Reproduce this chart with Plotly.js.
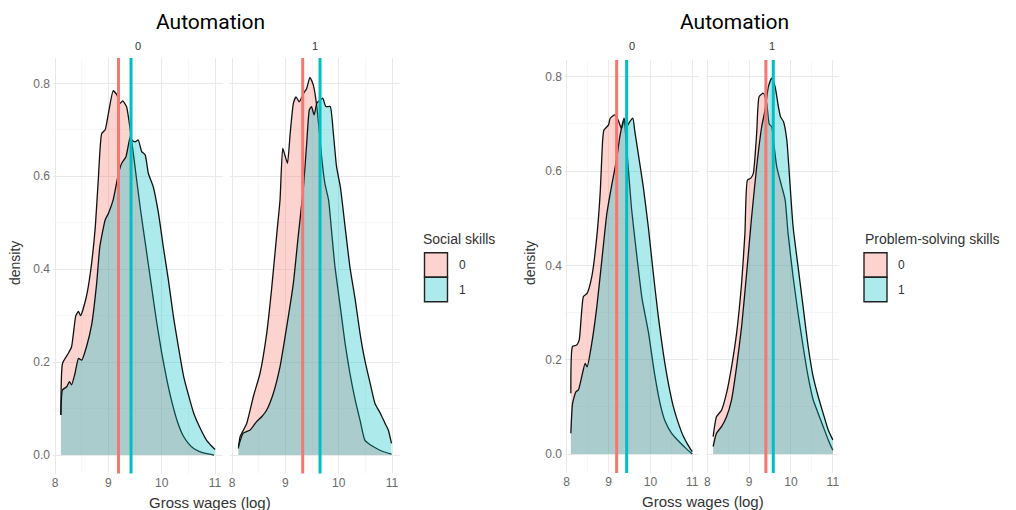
<!DOCTYPE html>
<html><head><meta charset="utf-8">
<script src="https://cdn.plot.ly/plotly-3.0.1.min.js"></script>
<style>html,body{margin:0;padding:0;background:#fff}#chart{width:1016px;height:510px}</style>
</head><body><div id="chart"></div>
<script>
// ---------- DATA ----------
const facetLabels = ['0', '1'];
const groupLabels = ['0', '1'];
const chartTitles = ['Automation', 'Automation'];
const legendTitles = ['Social skills', 'Problem-solving skills'];

// Left chart: Social skills, Automation = 0
const socA0S0x = [8.11, 8.14, 8.25, 8.31, 8.39, 8.44, 8.48, 8.58, 8.66, 8.75, 8.81, 8.875, 8.94, 9.0, 9.09, 9.16, 9.22, 9.27, 9.34, 9.41, 9.5, 9.6, 9.7, 9.8, 9.9, 10.0, 10.1, 10.2, 10.3, 10.4, 10.5, 10.6, 10.7, 10.8, 10.9, 10.98];
const socA0S0y = [0.086, 0.197, 0.219, 0.233, 0.30, 0.309, 0.30, 0.337, 0.39, 0.484, 0.59, 0.692, 0.70, 0.735, 0.784, 0.775, 0.757, 0.762, 0.75, 0.70, 0.62, 0.53, 0.45, 0.37, 0.29, 0.22, 0.16, 0.11, 0.07, 0.042, 0.025, 0.014, 0.008, 0.004, 0.002, 0.0];
const socA0S1x = [8.11, 8.14, 8.22, 8.27, 8.31, 8.375, 8.44, 8.5, 8.59, 8.69, 8.78, 8.84, 8.94, 9.0, 9.09, 9.19, 9.25, 9.33, 9.41, 9.44, 9.5, 9.56, 9.625, 9.69, 9.75, 9.84, 9.94, 10.03, 10.125, 10.22, 10.31, 10.41, 10.5, 10.6, 10.72, 10.84, 10.93, 11.0];
const socA0S1y = [0.086, 0.14, 0.147, 0.158, 0.151, 0.176, 0.208, 0.204, 0.233, 0.283, 0.369, 0.448, 0.506, 0.52, 0.549, 0.606, 0.628, 0.642, 0.685, 0.678, 0.674, 0.678, 0.653, 0.646, 0.606, 0.578, 0.52, 0.448, 0.377, 0.298, 0.235, 0.17, 0.13, 0.09, 0.058, 0.032, 0.02, 0.012];
// Left chart: Social skills, Automation = 1
const socA1S0x = [8.12, 8.15, 8.275, 8.4, 8.525, 8.65, 8.74, 8.84, 8.9, 8.95, 8.99, 9.04, 9.09, 9.15, 9.2, 9.26, 9.34, 9.4, 9.46, 9.525, 9.59, 9.64, 9.68, 9.74, 9.81, 9.87, 9.93, 10.03, 10.12, 10.21, 10.31, 10.4, 10.49, 10.59, 10.71, 10.84, 10.99];
const socA1S0y = [0.014, 0.039, 0.068, 0.126, 0.176, 0.262, 0.355, 0.477, 0.549, 0.66, 0.646, 0.628, 0.692, 0.757, 0.771, 0.76, 0.778, 0.789, 0.813, 0.796, 0.75, 0.692, 0.642, 0.585, 0.549, 0.477, 0.405, 0.319, 0.24, 0.176, 0.118, 0.075, 0.032, 0.022, 0.014, 0.007, 0.002];
const socA1S1x = [8.12, 8.21, 8.34, 8.46, 8.56, 8.65, 8.775, 8.9, 9.025, 9.15, 9.24, 9.34, 9.4, 9.45, 9.49, 9.54, 9.59, 9.65, 9.7, 9.76, 9.84, 9.9, 9.96, 10.03, 10.12, 10.21, 10.31, 10.4, 10.49, 10.59, 10.68, 10.78, 10.87, 10.93, 10.99];
const socA1S1y = [0.018, 0.047, 0.054, 0.072, 0.083, 0.097, 0.133, 0.19, 0.276, 0.37, 0.47, 0.578, 0.671, 0.743, 0.75, 0.732, 0.757, 0.764, 0.768, 0.75, 0.75, 0.692, 0.62, 0.578, 0.491, 0.405, 0.334, 0.262, 0.204, 0.154, 0.111, 0.09, 0.068, 0.054, 0.025];

// Right chart: Problem-solving skills, Automation = 0
const psA0S0x = [8.1, 8.14, 8.24, 8.3, 8.4, 8.49, 8.6, 8.72, 8.8, 8.86, 8.89, 9.0, 9.04, 9.15, 9.23, 9.31, 9.37, 9.45, 9.55, 9.65, 9.8, 9.95, 10.1, 10.25, 10.35, 10.5, 10.7, 10.85, 11.0];
const psA0S0y = [0.129, 0.228, 0.231, 0.242, 0.334, 0.341, 0.376, 0.461, 0.553, 0.666, 0.687, 0.698, 0.712, 0.719, 0.708, 0.69, 0.708, 0.63, 0.52, 0.44, 0.33, 0.26, 0.17, 0.10, 0.07, 0.045, 0.025, 0.012, 0.0];
const psA0S1x = [8.1, 8.14, 8.22, 8.28, 8.36, 8.44, 8.49, 8.6, 8.72, 8.84, 8.96, 9.07, 9.19, 9.27, 9.37, 9.43, 9.51, 9.58, 9.63, 9.71, 9.83, 9.95, 10.07, 10.19, 10.31, 10.43, 10.55, 10.67, 10.79, 10.9, 11.0];
const psA0S1y = [0.044, 0.107, 0.132, 0.136, 0.164, 0.192, 0.185, 0.235, 0.312, 0.411, 0.51, 0.567, 0.623, 0.673, 0.712, 0.694, 0.705, 0.712, 0.683, 0.637, 0.567, 0.482, 0.383, 0.291, 0.213, 0.15, 0.1, 0.065, 0.037, 0.019, 0.005];
// Right chart: Problem-solving skills, Automation = 1
const psA1S0x = [8.14, 8.22, 8.34, 8.46, 8.58, 8.7, 8.82, 8.9, 8.96, 9.04, 9.1, 9.18, 9.24, 9.34, 9.42, 9.48, 9.54, 9.58, 9.66, 9.78, 9.86, 9.93, 10.05, 10.17, 10.29, 10.41, 10.53, 10.65, 10.77, 10.89, 11.0];
const psA1S0y = [0.037, 0.079, 0.093, 0.129, 0.185, 0.256, 0.362, 0.468, 0.581, 0.585, 0.595, 0.68, 0.758, 0.765, 0.744, 0.70, 0.694, 0.666, 0.609, 0.567, 0.539, 0.468, 0.376, 0.298, 0.228, 0.164, 0.115, 0.086, 0.058, 0.03, 0.008];
const psA1S1x = [8.14, 8.22, 8.34, 8.46, 8.58, 8.7, 8.82, 8.94, 9.06, 9.18, 9.3, 9.38, 9.46, 9.54, 9.62, 9.7, 9.75, 9.82, 9.9, 9.97, 10.05, 10.17, 10.29, 10.41, 10.53, 10.65, 10.77, 10.89, 11.0];
const psA1S1y = [0.016, 0.044, 0.058, 0.079, 0.115, 0.185, 0.27, 0.383, 0.503, 0.609, 0.694, 0.729, 0.779, 0.797, 0.779, 0.736, 0.715, 0.705, 0.666, 0.581, 0.482, 0.397, 0.312, 0.228, 0.164, 0.122, 0.086, 0.051, 0.03];

// Group means (vertical lines): [skill 0, skill 1]
const socMeansA0 = [9.19, 9.425];
const socMeansA1 = [9.325, 9.65];
const psMeansA0 = [9.194, 9.433];
const psMeansA1 = [9.40, 9.577];

// ---------- STYLE ----------
const W = 1016, H = 510;
const PINK = '#F8766D', TEAL = '#00BFC4';
const PINK_FILL = 'rgba(248,118,109,0.32)', TEAL_FILL = 'rgba(0,191,196,0.32)';
const FONT = 'Liberation Sans, Arial, sans-serif';
const TFONT = 'Roboto, Liberation Sans, sans-serif';

const panels = [
  {xa: 'x',  ya: 'y',  s0x: socA0S0x, s0y: socA0S0y, s1x: socA0S1x, s1y: socA0S1y, means: socMeansA0},
  {xa: 'x2', ya: 'y2', s0x: socA1S0x, s0y: socA1S0y, s1x: socA1S1x, s1y: socA1S1y, means: socMeansA1},
  {xa: 'x3', ya: 'y3', s0x: psA0S0x,  s0y: psA0S0y,  s1x: psA0S1x,  s1y: psA0S1y,  means: psMeansA0},
  {xa: 'x4', ya: 'y4', s0x: psA1S0x,  s0y: psA1S0y,  s1x: psA1S1x,  s1y: psA1S1y,  means: psMeansA1}
];

const traces = [];
const shapes = [];
panels.forEach(p => {
  traces.push({type: 'scatter', mode: 'lines', x: p.s0x, y: p.s0y, xaxis: p.xa, yaxis: p.ya,
    fill: 'tozeroy', fillcolor: PINK_FILL, line: {color: '#111', width: 1.3, shape: 'spline', smoothing: 0.5},
    hoverinfo: 'skip', showlegend: false});
  traces.push({type: 'scatter', mode: 'lines', x: p.s1x, y: p.s1y, xaxis: p.xa, yaxis: p.ya,
    fill: 'tozeroy', fillcolor: TEAL_FILL, line: {color: '#111', width: 1.3, shape: 'spline', smoothing: 0.5},
    hoverinfo: 'skip', showlegend: false});
  [PINK, TEAL].forEach((c, i) => {
    shapes.push({type: 'line', xref: p.xa, yref: p.ya + ' domain', x0: p.means[i], x1: p.means[i], y0: 0, y1: 1,
      line: {color: c, width: 3}, layer: 'above'});
  });
});

function px(x) { return x / W; }
function py(y) { return 1 - y / H; }

function xax(l, r, anchor) {
  return {domain: [px(l), px(r)], anchor: anchor, range: [7.96, 11.14], tick0: 8, dtick: 1,
    showgrid: true, gridcolor: '#e9e9e9', gridwidth: 1, zeroline: false, showline: false, ticks: '',
    tickfont: {family: FONT, size: 12, color: '#6a6a6a'},
    minor: {dtick: 0.5, tick0: 8, showgrid: true, gridcolor: '#f3f3f3', gridwidth: 0.7},
    fixedrange: true};
}
function yax(top, bot, anchor, rmax, labels) {
  return {domain: [py(bot), py(top)], anchor: anchor, range: [-0.04, rmax], tick0: 0, dtick: 0.2,
    tickformat: '.1f', showticklabels: labels,
    showgrid: true, gridcolor: '#e9e9e9', gridwidth: 1, zeroline: false, showline: false, ticks: '',
    tickfont: {family: FONT, size: 12, color: '#6a6a6a'}, ticklabelstandoff: 2,
    minor: {dtick: 0.1, tick0: 0, showgrid: true, gridcolor: '#f3f3f3', gridwidth: 0.7},
    fixedrange: true};
}

const L_TOP = 58, L_BOT = 473.6, R_TOP = 60, R_BOT = 472.9;
const layout = {
  width: W, height: H, margin: {l: 0, r: 0, t: 0, b: 0},
  paper_bgcolor: '#fff', plot_bgcolor: 'rgba(0,0,0,0)', showlegend: false,
  xaxis: xax(52.9, 222.5, 'y'),
  xaxis2: xax(229.9, 399.5, 'y2'),
  xaxis3: xax(565.0, 698.1, 'y3'),
  xaxis4: xax(705.6, 838.7, 'y4'),
  yaxis: yax(L_TOP, L_BOT, 'x', 0.8545, true),
  yaxis2: yax(L_TOP, L_BOT, 'x2', 0.8545, false),
  yaxis3: yax(R_TOP, R_BOT, 'x3', 0.8355, true),
  yaxis4: yax(R_TOP, R_BOT, 'x4', 0.8355, false),
  shapes: shapes,
  annotations: []
};

function ann(text, x, y, size, color, family, extra) {
  layout.annotations.push(Object.assign({text: text, xref: 'paper', yref: 'paper', x: px(x), y: py(y),
    xanchor: 'center', yanchor: 'middle', showarrow: false,
    font: {family: family || FONT, size: size, color: color}}, extra || {}));
}

// chart titles
ann(chartTitles[0], 210, 22, 21, '#000', TFONT);
ann(chartTitles[1], 734, 22, 21, '#000', TFONT);
// facet strips
ann(facetLabels[0], 137.7, 46, 11, '#333');
ann(facetLabels[1], 314.7, 46, 11, '#333');
ann(facetLabels[0], 631.5, 46, 11, '#333');
ann(facetLabels[1], 772.1, 46, 11, '#333');
// axis titles
ann('density', 15, 263, 14, '#333', FONT, {textangle: -90});
ann('density', 530, 263, 14, '#333', FONT, {textangle: -90});
ann('Gross wages (log)', 210, 502, 15, '#333');
ann('Gross wages (log)', 703, 501, 15, '#333');

// legends
function legend(title, titleX, boxL, labelX) {
  ann(title, titleX, 239, 14, '#333', FONT, {xanchor: 'left'});
  const boxes = [[252.7, 277.3, PINK_FILL], [277.3, 301.7, TEAL_FILL]];
  boxes.forEach((b, i) => {
    shapes.push({type: 'rect', xref: 'paper', yref: 'paper', x0: px(boxL), x1: px(boxL + 23),
      y0: py(b[1]), y1: py(b[0]), fillcolor: b[2], line: {color: '#222', width: 1.4}});
    ann(groupLabels[i], labelX, (b[0] + b[1]) / 2, 12, '#333', FONT, {xanchor: 'left'});
  });
}
legend(legendTitles[0], 421, 424.5, 457);
legend(legendTitles[1], 863, 864, 896);

Plotly.newPlot('chart', traces, layout, {staticPlot: true, displayModeBar: false});
</script>
</body></html>
